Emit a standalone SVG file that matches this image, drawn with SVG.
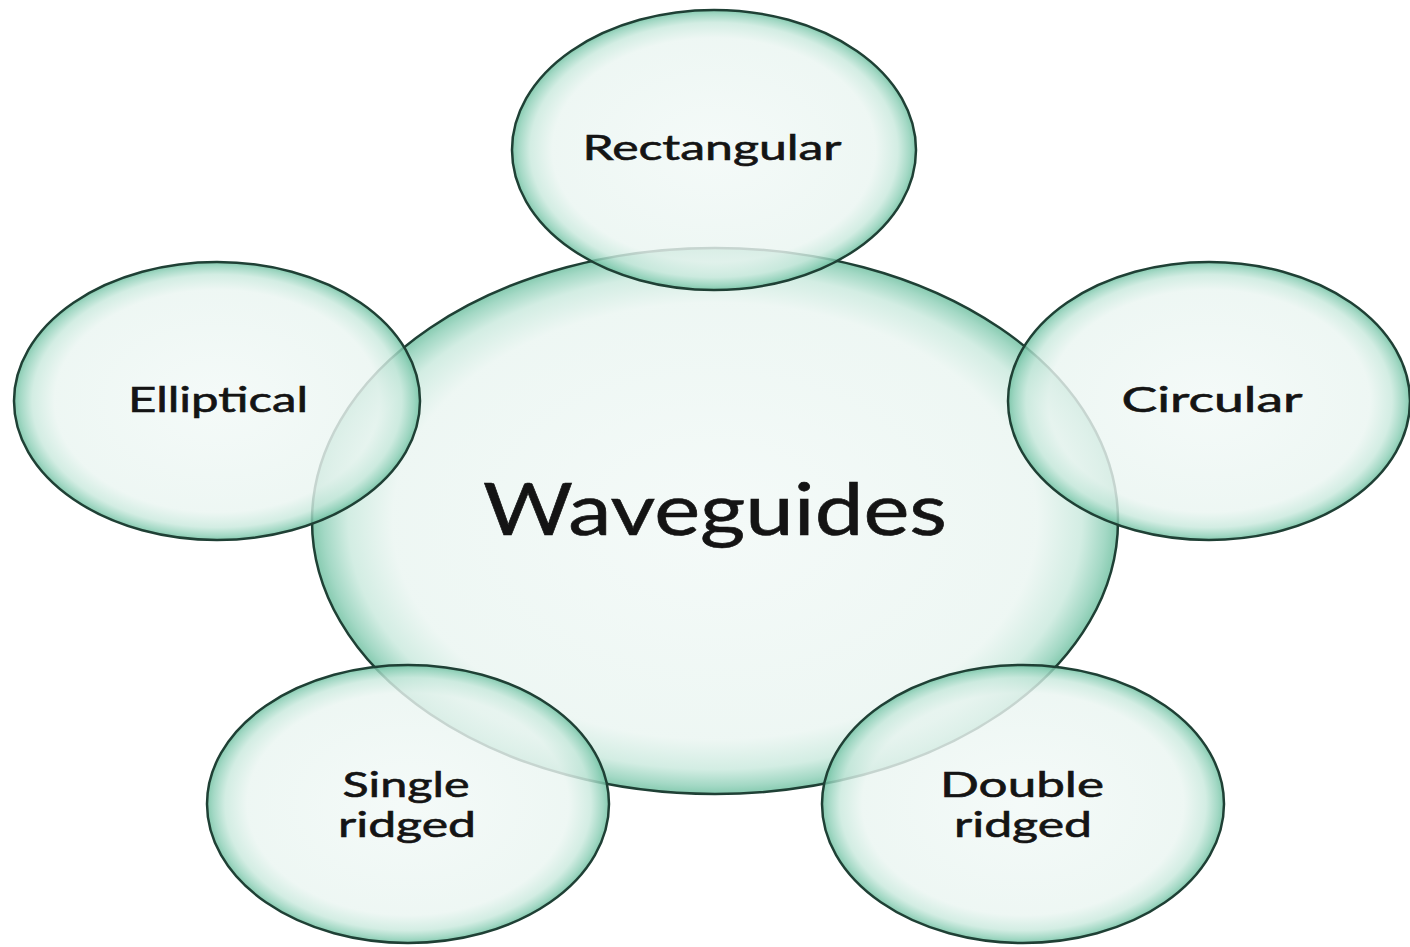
<svg xmlns="http://www.w3.org/2000/svg" width="1410" height="947" viewBox="0 0 1410 947">
<defs>
<radialGradient id="bub" cx="0.5" cy="0.5" r="0.5">
<stop offset="0" stop-color="#f2f9f7"/>
<stop offset="0.8" stop-color="#eaf5f1"/>
<stop offset="0.91" stop-color="#c9e9dd"/>
<stop offset="0.97" stop-color="#8fd0b8"/>
<stop offset="1" stop-color="#6cbf9f"/>
</radialGradient>
<style>
.b{fill:url(#bub);fill-opacity:0.82;stroke:#1f4035;stroke-width:2.5}
.t{font-family:Lato,"Open Sans",sans-serif;fill:#141414;stroke:#141414;stroke-width:0.6;text-anchor:middle}
.s{font-size:35px}
.c{font-size:72px}
</style>
</defs>
<rect width="1410" height="947" fill="#ffffff"/>
<g id="waveguides">
<ellipse class="b" cx="715" cy="521" rx="403" ry="273"/>
<text class="t c" x="715" y="535" textLength="464" lengthAdjust="spacingAndGlyphs">Waveguides</text>
</g>
<g id="rectangular">
<ellipse class="b" cx="714" cy="150" rx="202" ry="140"/>
<text class="t s" x="712" y="160" textLength="259" lengthAdjust="spacingAndGlyphs">Rectangular</text>
</g>
<g id="elliptical">
<ellipse class="b" cx="217" cy="401" rx="203" ry="139"/>
<text class="t s" x="218" y="412" textLength="180" lengthAdjust="spacingAndGlyphs">Elliptical</text>
</g>
<g id="circular">
<ellipse class="b" cx="1209" cy="401" rx="201" ry="139"/>
<text class="t s" x="1212" y="412" textLength="181" lengthAdjust="spacingAndGlyphs">Circular</text>
</g>
<g id="single-ridged">
<ellipse class="b" cx="408" cy="804" rx="201" ry="139"/>
<text class="t s" x="406" y="797" textLength="127" lengthAdjust="spacingAndGlyphs">Single</text>
<text class="t s" x="407" y="837" textLength="138" lengthAdjust="spacingAndGlyphs">ridged</text>
</g>
<g id="double-ridged">
<ellipse class="b" cx="1023" cy="804" rx="201" ry="139"/>
<text class="t s" x="1022" y="797" textLength="164" lengthAdjust="spacingAndGlyphs">Double</text>
<text class="t s" x="1023" y="837" textLength="138" lengthAdjust="spacingAndGlyphs">ridged</text>
</g>
<g id="connectors"/>
</svg>
